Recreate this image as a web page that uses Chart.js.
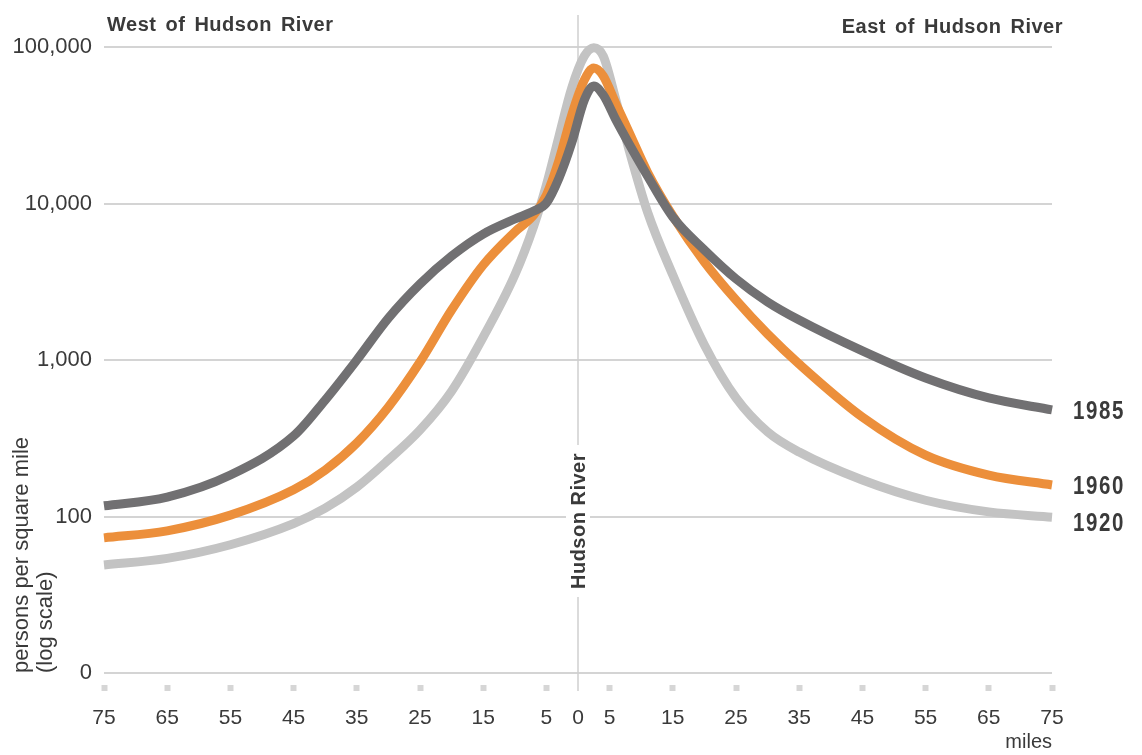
<!DOCTYPE html>
<html>
<head>
<meta charset="utf-8">
<script src="https://cdn.jsdelivr.net/npm/chart.js@4"></script>
<style>
  body { margin: 0; background: #fff; }
  canvas { display: block; }
</style>
</head>
<body>
<canvas id="chart" width="1142" height="755"></canvas>
<script>
// miles from the Hudson River: negative = west, positive = east
const miles = [-75, -65, -55, -45, -40, -35, -30, -25, -20, -15, -10, -7, -5, -3, -1, 1, 2.5, 4, 6, 8, 11, 15, 20, 25, 30, 35, 45, 55, 65, 75];

// persons per square mile
const density1985 = [117, 133, 184, 327, 555, 1000, 1854, 3063, 4620, 6383, 7960, 8950, 10070, 14550, 24370, 45800, 56360, 49300, 34200, 24370, 15000, 8200, 5050, 3300, 2350, 1800, 1143, 767, 572, 480];
const density1960 = [73, 81, 102, 148, 198, 295, 501, 970, 2085, 4045, 6580, 8450, 11330, 18970, 36750, 61500, 73450, 65300, 43250, 29040, 15850, 8320, 4230, 2415, 1466, 942, 432, 247, 184, 159];
const density1920 = [49, 54, 66, 90, 113, 154, 230, 357, 632, 1400, 3490, 7180, 13130, 26980, 54700, 87500, 99000, 87500, 45800, 22650, 8830, 3490, 1247, 572, 347, 258, 171, 127, 107, 99];

const seriesLabels = ["1985", "1960", "1920"];

const xTicks = [-75, -65, -55, -45, -35, -25, -15, -5, 0, 5, 15, 25, 35, 45, 55, 65, 75];
const yTicks = [10, 100, 1000, 10000, 100000];
const yTickLabels = ["0", "100", "1,000", "10,000", "100,000"];

const family = "'Liberation Sans', Arial, sans-serif";
const textColor = "#3a3a3a";

function points(values) {
  return miles.map((m, i) => ({ x: m, y: values[i] }));
}

const annotations = {
  id: "annotations",
  beforeDatasetsDraw(chart) {
    const { ctx, chartArea, scales } = chart;
    const px = scales.x.getPixelForValue(0);
    ctx.save();
    ctx.strokeStyle = "#cfcfcf";
    ctx.lineWidth = 1.5;
    ctx.beginPath();
    ctx.moveTo(px, 15);
    ctx.lineTo(px, chartArea.bottom + 18);
    ctx.stroke();
    ctx.restore();
  },
  afterDatasetsDraw(chart) {
    const { ctx, chartArea, scales } = chart;
    const px = scales.x.getPixelForValue(0);
    ctx.save();

    // river label, breaking the vertical line
    ctx.fillStyle = "#fff";
    ctx.fillRect(px - 12, 445, 24, 152);
    ctx.translate(px + 1, 521);
    ctx.rotate(-Math.PI / 2);
    ctx.font = "bold 20px " + family;
    ctx.letterSpacing = "0.5px";
    ctx.fillStyle = textColor;
    ctx.textAlign = "center";
    ctx.textBaseline = "middle";
    ctx.fillText("Hudson River", 0, 0);
    ctx.setTransform(1, 0, 0, 1, 0, 0);

    // side headers
    ctx.font = "bold 20px " + family;
    ctx.wordSpacing = "3px";
    ctx.textAlign = "left";
    ctx.fillText("West of Hudson River", chartArea.left + 3, 25);
    ctx.textAlign = "right";
    ctx.fillText("East of Hudson River", chartArea.right + 11, 27);
    ctx.wordSpacing = "0px";

    // year labels at the right end of each line (condensed bold)
    const nudge = [2, 2, 7];
    ctx.font = "bold 25px " + family;
    ctx.letterSpacing = "2px";
    ctx.textAlign = "left";
    chart.data.datasets.forEach((ds, i) => {
      const last = ds.data[ds.data.length - 1].y;
      const ly = scales.y.getPixelForValue(last) + nudge[i];
      ctx.setTransform(0.82, 0, 0, 1, chartArea.right + 21, ly);
      ctx.fillText(ds.label, 0, 0);
    });
    ctx.restore();
  },
};

const ctx = document.getElementById("chart").getContext("2d");

new Chart(ctx, {
  type: "line",
  data: {
    datasets: [
      { label: seriesLabels[0], data: points(density1985), borderColor: "#717072" },
      { label: seriesLabels[1], data: points(density1960), borderColor: "#ec8f3b" },
      { label: seriesLabels[2], data: points(density1920), borderColor: "#c3c3c3" },
    ].map((ds) => ({
      ...ds,
      borderWidth: 9,
      pointRadius: 0,
      fill: false,
      cubicInterpolationMode: "monotone",
      clip: false,
    })),
  },
  options: {
    responsive: false,
    animation: false,
    layout: {
      padding: { top: 47, right: 90, left: 0, bottom: 0 },
    },
    plugins: {
      legend: { display: false },
      tooltip: { enabled: false },
    },
    scales: {
      x: {
        type: "linear",
        min: -75,
        max: 75,
        afterBuildTicks: (scale) => {
          scale.ticks = xTicks.map((v) => ({ value: v }));
        },
        afterFit: (scale) => {
          scale.height = 82;
        },
        ticks: {
          autoSkip: false,
          maxRotation: 0,
          padding: 14,
          color: textColor,
          font: { size: 21, family: family },
          callback: (v) => String(Math.abs(v)),
        },
        grid: {
          drawOnChartArea: false,
          drawTicks: true,
          tickLength: 19,
          tickWidth: 6,
          tickColor: (c) => (c.tick && c.tick.value === 0 ? "rgba(0,0,0,0)" : "#d6d6d6"),
          tickBorderDash: [6, 30],
          tickBorderDashOffset: 24,
        },
        border: { display: false },
        title: {
          display: true,
          text: "miles",
          align: "end",
          color: textColor,
          font: { size: 20, family: family },
          padding: { top: 0, bottom: 1 },
        },
      },
      y: {
        type: "logarithmic",
        min: 10,
        max: 100000,
        afterBuildTicks: (scale) => {
          scale.ticks = yTicks.map((v) => ({ value: v }));
        },
        afterFit: (scale) => {
          scale.width = 104;
        },
        ticks: {
          padding: 12,
          color: textColor,
          font: { size: 22, family: family },
          callback: (v) => yTickLabels[yTicks.indexOf(v)],
        },
        grid: {
          color: "#d4d4d4",
          lineWidth: 2,
          drawTicks: false,
        },
        border: { display: false },
        title: {
          display: true,
          text: ["persons per square mile", "(log scale)"],
          align: "start",
          color: textColor,
          font: { size: 22, family: family, lineHeight: 1.1 },
          padding: { top: 10 },
        },
      },
    },
  },
  plugins: [annotations],
});
</script>
</body>
</html>
